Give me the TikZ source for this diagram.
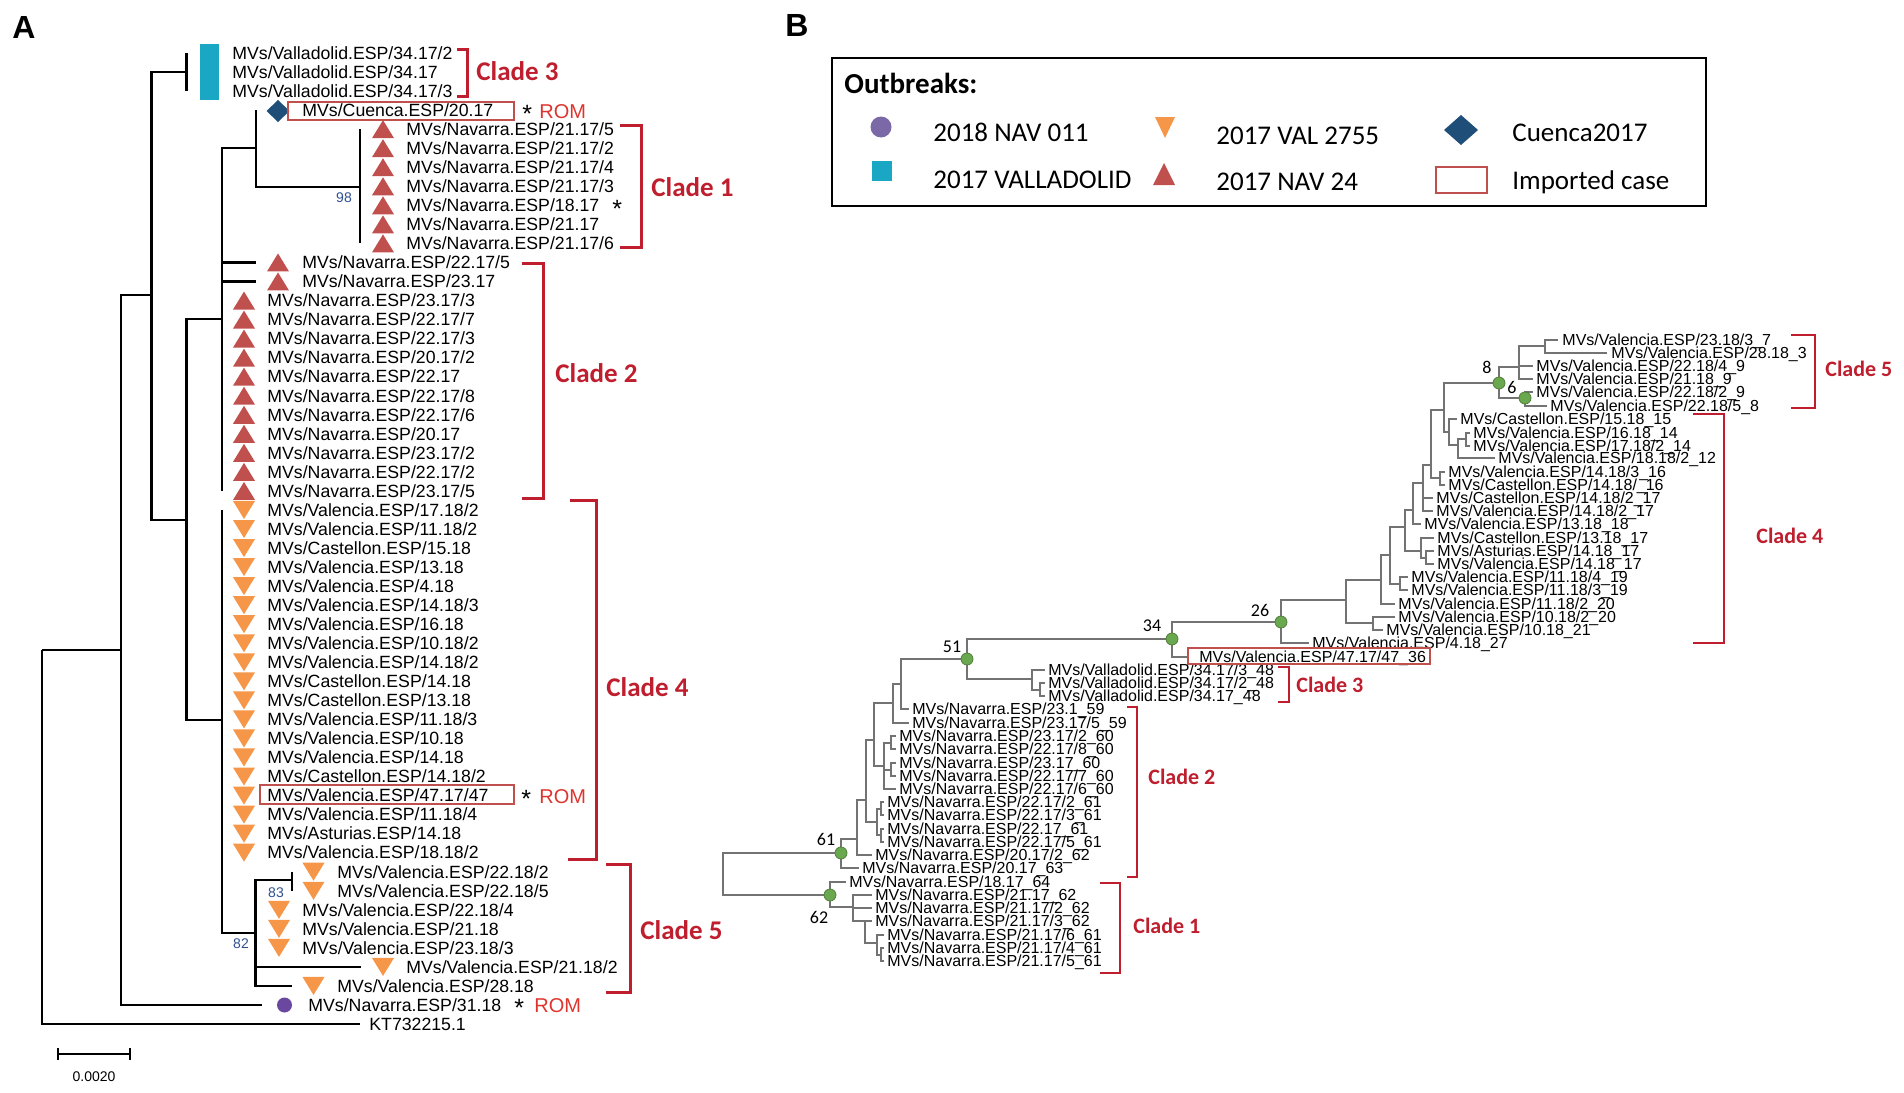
\documentclass[tikz,border=0pt]{standalone}
\usepackage{fontspec}
\setmainfont{Liberation Sans}
\newfontfamily\calfont{Carlito}

\definecolor{navred}{RGB}{192,80,77}
\definecolor{valorange}{RGB}{245,150,72}
\definecolor{vllcyan}{RGB}{26,167,196}
\definecolor{cuencablue}{RGB}{31,78,121}
\definecolor{navpurple}{RGB}{106,72,160}
\definecolor{legpurple}{RGB}{123,104,166}
\definecolor{cladered}{RGB}{190,30,45}
\definecolor{romred}{RGB}{222,52,46}
\definecolor{bootblue}{RGB}{46,80,145}
\definecolor{nodegreen}{RGB}{106,168,79}

\newcommand{\uptri}[3][navred]{\fill[#1] ({#2},{#3}) ++(-11,9) -- ++(22,0) -- ++(-11,-18) -- cycle;}
\newcommand{\downtri}[3][valorange]{\fill[#1] ({#2},{#3}) ++(-11,-9) -- ++(22,0) -- ++(-11,18) -- cycle;}

\begin{document}
\begin{tikzpicture}[x=0.5pt, y=-0.5pt,
  aline/.style={line width=1.25pt},
  bline/.style={line width=0.7pt, color=black!55},
  aleaf/.style={anchor=west, inner sep=0pt, font=\fontsize{8.85}{9}\selectfont, text height=6.3pt, text depth=0pt},
  bleaf/.style={anchor=west, inner sep=0pt, font=\fontsize{8}{8}\selectfont, text height=5.7pt, text depth=0pt},
  abrace/.style={cladered, line width=1.5pt},
  bbrace/.style={cladered, line width=1pt},
  acladelab/.style={anchor=west, inner sep=0pt, text=cladered, font=\calfont\bfseries\fontsize{13.5}{13.5}\selectfont, text height=8.7pt, text depth=0pt},
  bcladelab/.style={anchor=west, inner sep=0pt, text=cladered, font=\calfont\bfseries\fontsize{11}{11}\selectfont, text height=7.1pt, text depth=0pt},
  imported/.style={draw=navred, line width=0.9pt},
  romlab/.style={anchor=west, inner sep=0pt, text=romred, font=\fontsize{10}{10}\selectfont, text height=7.2pt, text depth=0pt},
  asterisk/.style={anchor=west, inner sep=0pt, font=\fontsize{12.5}{12.5}\selectfont, text height=9pt, text depth=0pt},
  bsupp/.style={inner sep=0pt, text=bootblue, font=\fontsize{7}{7}\selectfont},
  bnum/.style={inner sep=0pt, font=\calfont\fontsize{9}{9}\selectfont},
  gdot/.style={fill=nodegreen, draw=nodegreen!75!black, line width=0.4pt},
  leglab/.style={anchor=west, inner sep=0pt, font=\calfont\fontsize{13.5}{13.5}\selectfont, text height=8.7pt, text depth=0pt},
  panellab/.style={inner sep=0pt, font=\bfseries\fontsize{16}{16}\selectfont}]

\useasboundingbox (0,0) rectangle (1904,1092);

%%%%% panel A
\node[panellab] (labA) at (24,27) {A};

\foreach \n/\x/\y in {a0/42/650, a1/121/650, a2/151.5/295, a3/186.5/72, a4/186.5/520, a5/222/319, a6/222/720, a7/256/148, a8/360/187, a9/255.5/933, a10/292/880}
  \coordinate (\n) at (\x,\y);
\foreach \r/\ex in {0/186.5, 2/186.5, 3/256, 4/360, 10/360, 11/256, 12/256, 23/222, 24/222, 42/222, 43/292, 44/292, 48/361, 49/292, 50/262, 51/360}
  \coordinate (e\r) at (\ex,{53+19.04*\r});

\foreach \p/\c in {a0/a1, a0/e51, a1/a2, a1/e50, a2/a3, a2/a4, a3/e0, a3/e2, a4/a5, a4/a6, a5/a7, a5/e11, a5/e12, a5/e23, a7/e3, a7/a8, a8/e4, a8/e10, a6/e24, a6/e42, a6/a9, a9/a10, a9/e48, a9/e49, a10/e43, a10/e44}
  \draw[aline] (\p) |- (\c);

\foreach \r/\tx/\lab in {0/232/{MVs/Valladolid.ESP/34.17/2}, 1/232/{MVs/Valladolid.ESP/34.17}, 2/232/{MVs/Valladolid.ESP/34.17/3}, 3/302/{MVs/Cuenca.ESP/20.17},
  4/406/{MVs/Navarra.ESP/21.17/5}, 5/406/{MVs/Navarra.ESP/21.17/2}, 6/406/{MVs/Navarra.ESP/21.17/4}, 7/406/{MVs/Navarra.ESP/21.17/3}, 8/406/{MVs/Navarra.ESP/18.17}, 9/406/{MVs/Navarra.ESP/21.17}, 10/406/{MVs/Navarra.ESP/21.17/6},
  11/302/{MVs/Navarra.ESP/22.17/5}, 12/302/{MVs/Navarra.ESP/23.17},
  13/267/{MVs/Navarra.ESP/23.17/3}, 14/267/{MVs/Navarra.ESP/22.17/7}, 15/267/{MVs/Navarra.ESP/22.17/3}, 16/267/{MVs/Navarra.ESP/20.17/2}, 17/267/{MVs/Navarra.ESP/22.17}, 18/267/{MVs/Navarra.ESP/22.17/8}, 19/267/{MVs/Navarra.ESP/22.17/6}, 20/267/{MVs/Navarra.ESP/20.17}, 21/267/{MVs/Navarra.ESP/23.17/2}, 22/267/{MVs/Navarra.ESP/22.17/2}, 23/267/{MVs/Navarra.ESP/23.17/5},
  24/267/{MVs/Valencia.ESP/17.18/2}, 25/267/{MVs/Valencia.ESP/11.18/2}, 26/267/{MVs/Castellon.ESP/15.18}, 27/267/{MVs/Valencia.ESP/13.18}, 28/267/{MVs/Valencia.ESP/4.18}, 29/267/{MVs/Valencia.ESP/14.18/3}, 30/267/{MVs/Valencia.ESP/16.18}, 31/267/{MVs/Valencia.ESP/10.18/2}, 32/267/{MVs/Valencia.ESP/14.18/2}, 33/267/{MVs/Castellon.ESP/14.18}, 34/267/{MVs/Castellon.ESP/13.18}, 35/267/{MVs/Valencia.ESP/11.18/3}, 36/267/{MVs/Valencia.ESP/10.18}, 37/267/{MVs/Valencia.ESP/14.18}, 38/267/{MVs/Castellon.ESP/14.18/2}, 39/267/{MVs/Valencia.ESP/47.17/47}, 40/267/{MVs/Valencia.ESP/11.18/4}, 41/267/{MVs/Asturias.ESP/14.18}, 42/267/{MVs/Valencia.ESP/18.18/2},
  43/337/{MVs/Valencia.ESP/22.18/2}, 44/337/{MVs/Valencia.ESP/22.18/5}, 45/302/{MVs/Valencia.ESP/22.18/4}, 46/302/{MVs/Valencia.ESP/21.18}, 47/302/{MVs/Valencia.ESP/23.18/3}, 48/406/{MVs/Valencia.ESP/21.18/2}, 49/337/{MVs/Valencia.ESP/28.18}, 50/308/{MVs/Navarra.ESP/31.18}, 51/369/{KT732215.1}}
  \node[aleaf] (ta\r) at (\tx,{53+19.04*\r}) {\lab};

% outbreak symbols
\fill[vllcyan] (200,44) rectangle (219,100);
\fill[cuencablue] (278,100) -- (289.5,111) -- (278,122) -- (266.5,111) -- cycle;
\foreach \r in {4,...,10} {\uptri{383}{53+19.04*\r}}
\foreach \r in {11,12} {\uptri{278}{53+19.04*\r}}
\foreach \r in {13,...,23} {\uptri{244}{53+19.04*\r}}
\foreach \r in {24,...,42} {\downtri{244}{53+19.04*\r}}
\foreach \r in {43,44,49} {\downtri{313.5}{53+19.04*\r}}
\foreach \r in {45,46,47} {\downtri{279}{53+19.04*\r}}
\downtri{383}{53+19.04*48}
\fill[navpurple] (284.5,1005) circle (7.5);

\draw[imported] (288,102) rectangle (514,120);
\draw[imported] (260,785) rectangle (514,804);

\node[asterisk] (ast3) at (522,113) {*};
\node[romlab] (rom3) at (539,111) {ROM};
\node[asterisk] (ast8) at (612,208) {*};
\node[asterisk] (ast39) at (521,798) {*};
\node[romlab] (rom39) at (539,796) {ROM};
\node[asterisk] (ast50) at (514,1007) {*};
\node[romlab] (rom50) at (534,1005) {ROM};

\node[bsupp] (s98) at (344,198) {98};
\node[bsupp] (s83) at (276,893) {83};
\node[bsupp] (s82) at (241,944) {82};

% clades
\draw[abrace] (457,49) -| (467,96) -- (457,96);
\draw[abrace] (620,125) -| (641,247) -- (620,247);
\draw[abrace] (522,263) -| (543,498) -- (522,498);
\draw[abrace] (570,500) -| (596,859) -- (568,859);
\draw[abrace] (606,864) -| (630,992) -- (606,992);
\node[acladelab] (ca3) at (476,72) {Clade 3};
\node[acladelab] (ca1) at (651,188) {Clade 1};
\node[acladelab] (ca2) at (555,374) {Clade 2};
\node[acladelab] (ca4) at (606,688) {Clade 4};
\node[acladelab] (ca5) at (640,931) {Clade 5};

% scale
\draw[aline] (58,1054) -- (130,1054);
\draw[aline] (58,1048) -- (58,1060);
\draw[aline] (130,1048) -- (130,1060);
\node[inner sep=0pt, font=\fontsize{7}{7}\selectfont] (scl) at (94,1077) {0.0020};

%%%%% panel B
\node[panellab] (labB) at (797,25) {B};

% legend
\draw[line width=1pt] (832,58) rectangle (1706,206);
\node[anchor=west, inner sep=0pt, font=\calfont\bfseries\fontsize{14.5}{14.5}\selectfont, text height=9.3pt, text depth=0pt] (outb) at (844,84) {Outbreaks:};
\fill[legpurple] (881,127) circle (10.5);
\fill[vllcyan] (872,161) rectangle (892,181);
\fill[valorange] (1155,117) -- (1175,117) -- (1165,138) -- cycle;
\fill[navred] (1153,185) -- (1175,185) -- (1164,163) -- cycle;
\fill[cuencablue] (1461,115) -- (1478,130) -- (1461,145) -- (1444,130) -- cycle;
\draw[imported] (1436,167) rectangle (1487,193);
\node[leglab] (lg1) at (933,133) {2018 NAV 011};
\node[leglab] (lg2) at (933,180) {2017 VALLADOLID};
\node[leglab] (lg3) at (1216,136) {2017 VAL 2755};
\node[leglab] (lg4) at (1216,182) {2017 NAV 24};
\node[leglab] (lg5) at (1512,133) {Cuenca2017};
\node[leglab] (lg6) at (1512,181) {Imported case};

% tree B leaves
\foreach \i/\ex/\tx/\y/\lab in {1/1558/1562/340/{MVs/Valencia.ESP/23.18/3\_7}, 2/1607/1611/353/{MVs/Valencia.ESP/28.18\_3}, 3/1533/1536/366/{MVs/Valencia.ESP/22.18/4\_9}, 4/1533/1536/379/{MVs/Valencia.ESP/21.18\_9}, 5/1533/1536/392/{MVs/Valencia.ESP/22.18/2\_9}, 6/1547/1550/406/{MVs/Valencia.ESP/22.18/5\_8},
  7/1457/1460/419/{MVs/Castellon.ESP/15.18\_15}, 8/1470/1473/433/{MVs/Valencia.ESP/16.18\_14}, 9/1470/1473/446/{MVs/Valencia.ESP/17.18/2\_14}, 10/1495/1498/458/{MVs/Valencia.ESP/18.18/2\_12}, 11/1445/1448/472/{MVs/Valencia.ESP/14.18/3\_16}, 12/1445/1448/485/{MVs/Castellon.ESP/14.18/\_16},
  13/1433/1436/498/{MVs/Castellon.ESP/14.18/2\_17}, 14/1433/1436/511/{MVs/Valencia.ESP/14.18/2\_17}, 15/1421/1424/524/{MVs/Valencia.ESP/13.18\_18}, 16/1434/1437/538/{MVs/Castellon.ESP/13.18\_17}, 17/1434/1437/551/{MVs/Asturias.ESP/14.18\_17}, 18/1434/1437/564/{MVs/Valencia.ESP/14.18\_17},
  19/1408/1411/577/{MVs/Valencia.ESP/11.18/4\_19}, 20/1408/1411/590/{MVs/Valencia.ESP/11.18/3\_19}, 21/1395/1398/604/{MVs/Valencia.ESP/11.18/2\_20}, 22/1395/1398/617/{MVs/Valencia.ESP/10.18/2\_20}, 23/1383/1386/630/{MVs/Valencia.ESP/10.18\_21}, 24/1309/1312/643/{MVs/Valencia.ESP/4.18\_27}, 25/1188/1199/657/{MVs/Valencia.ESP/47.17/47\_36},
  26/1045/1048/670/{MVs/Valladolid.ESP/34.17/3\_48}, 27/1045/1048/683/{MVs/Valladolid.ESP/34.17/2\_48}, 28/1045/1048/696/{MVs/Valladolid.ESP/34.17\_48},
  29/909/912/709/{MVs/Navarra.ESP/23.1\_59}, 30/909/912/723/{MVs/Navarra.ESP/23.17/5\_59}, 31/896/899/736/{MVs/Navarra.ESP/23.17/2\_60}, 32/896/899/749/{MVs/Navarra.ESP/22.17/8\_60}, 33/896/899/763/{MVs/Navarra.ESP/23.17\_60}, 34/896/899/776/{MVs/Navarra.ESP/22.17/7\_60}, 35/896/899/789/{MVs/Navarra.ESP/22.17/6\_60},
  36/884/887/802/{MVs/Navarra.ESP/22.17/2\_61}, 37/884/887/815/{MVs/Navarra.ESP/22.17/3\_61}, 38/884/887/829/{MVs/Navarra.ESP/22.17\_61}, 39/884/887/842/{MVs/Navarra.ESP/22.17/5\_61}, 40/872/875/855/{MVs/Navarra.ESP/20.17/2\_62}, 41/859/862/868/{MVs/Navarra.ESP/20.17\_63},
  42/846/849/882/{MVs/Navarra.ESP/18.17\_64}, 43/872/875/895/{MVs/Navarra.ESP/21.17\_62}, 44/872/875/908/{MVs/Navarra.ESP/21.17/2\_62}, 45/872/875/921/{MVs/Navarra.ESP/21.17/3\_62}, 46/884/887/935/{MVs/Navarra.ESP/21.17/6\_61}, 47/884/887/948/{MVs/Navarra.ESP/21.17/4\_61}, 48/884/887/961/{MVs/Navarra.ESP/21.17/5\_61}}
{
  \coordinate (l\i) at (\ex,\y);
  \node[bleaf] (tb\i) at (\tx,\y) {\lab};
}

% tree B inner nodes
\foreach \n/\x/\y in {br/723/874, b61/841/853, bq/857/839, br1/866/800, b22/877/822, p3/881/809, p4/881/835, bs/874/740, b60/884/766, pp1/891/743, pp2/891/770, bt/893/703, bw/901/684, b51/967/659, bv/1032/679, bv2/1040/690, b34/1172/639, b26/1281/622, b4/1346/600, bp/1373/623, b4a/1381/580, b4b/1390/555, b11/1400/584, b4c/1405/527, b4e/1421/551, pa/1426/558, b4d/1413/510, b4g/1423/483, b4i/1431/465, pq/1440/478, b5x/1444/410, b5y/1449/432, b5z/1458/445, pz/1466/439, b8/1499/383, b6/1525/398, b5a/1519/367, b5b/1545/346, b62/830/895, bc1/853/907, bc2/865/921, bc3/877/943, bc4/881/955}
  \coordinate (\n) at (\x,\y);

\foreach \p/\c in {br/b61, br/b62, b61/bq, b61/l41, bq/br1, bq/l40, br1/bs, br1/b22, b22/p3, b22/p4, p3/l36, p3/l37, p4/l38, p4/l39,
  bs/bt, bs/b60, b60/pp1, b60/pp2, b60/l35, pp1/l31, pp1/l32, pp2/l33, pp2/l34, bt/bw, bt/l30, bw/b51, bw/l29,
  b51/b34, b51/bv, bv/l26, bv/bv2, bv2/l27, bv2/l28, b34/b26, b34/l25, b26/b4, b26/l24,
  b4/b4a, b4/bp, bp/l22, bp/l23, b4a/b4b, b4a/l21, b4b/b4c, b4b/b11, b11/l19, b11/l20,
  b4c/b4d, b4c/b4e, b4e/l16, b4e/pa, pa/l17, pa/l18, b4d/b4g, b4d/l15, b4g/b4i, b4g/l13, b4g/l14,
  b4i/b5x, b4i/pq, pq/l11, pq/l12, b5x/b8, b5x/b5y, b5y/l7, b5y/b5z, b5z/pz, b5z/l10, pz/l8, pz/l9,
  b8/b5a, b8/b6, b6/l5, b6/l6, b5a/b5b, b5a/l3, b5a/l4, b5b/l1, b5b/l2,
  b62/l42, b62/bc1, bc1/l43, bc1/l44, bc1/bc2, bc2/l45, bc2/bc3, bc3/l46, bc3/bc4, bc4/l47, bc4/l48}
  \draw[bline] (\p) |- (\c);

\draw[imported, line width=0.7pt] (1188,648) rectangle (1430,664);

\foreach \n in {b61,b62,b51,b34,b26,b8,b6}
  \path[gdot] (\n) circle (6);

\node[bnum] (n61) at (826,839) {61};
\node[bnum] (n62) at (819,917) {62};
\node[bnum] (n51) at (952,647) {51};
\node[bnum] (n34) at (1152,626) {34};
\node[bnum] (n26) at (1260,610) {26};
\node[bnum] (n8) at (1487,367) {8};
\node[bnum] (n6) at (1512,387) {6};

\draw[bbrace] (1791,335) -| (1815,408) -- (1791,408);
\draw[bbrace] (1693,414) -| (1724,643) -- (1693,643);
\draw[bbrace] (1278,667) -| (1289,702) -- (1278,702);
\draw[bbrace] (1127,707) -| (1137,877) -- (1127,877);
\draw[bbrace] (1100,883) -| (1120,973) -- (1100,973);
\node[bcladelab] (cb5) at (1825,369) {Clade 5};
\node[bcladelab] (cb4) at (1756,536) {Clade 4};
\node[bcladelab] (cb3) at (1296,685) {Clade 3};
\node[bcladelab] (cb2) at (1148,777) {Clade 2};
\node[bcladelab] (cb1) at (1133,926) {Clade 1};

\end{tikzpicture}
\end{document}
